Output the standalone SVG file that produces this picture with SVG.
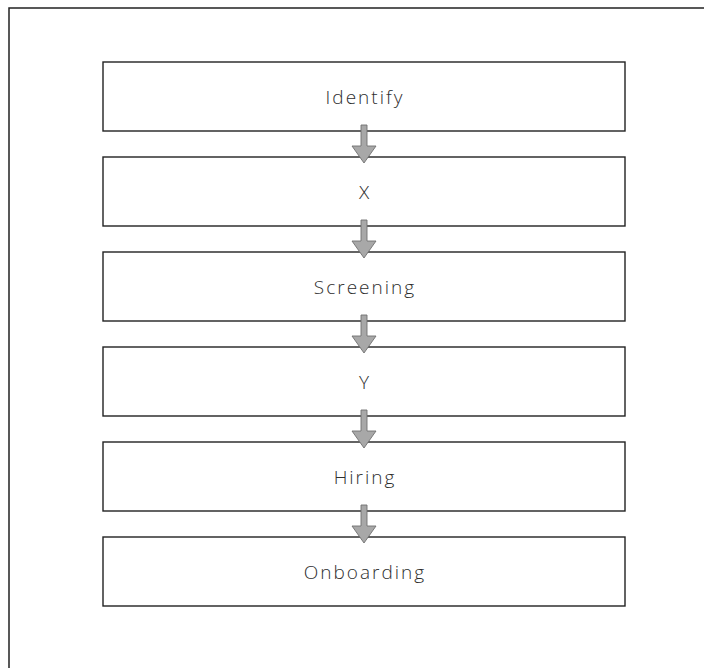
<svg xmlns="http://www.w3.org/2000/svg" width="704" height="668" viewBox="0 0 704 668">
<style>
.box{fill:#fff;stroke:#222;stroke-width:1.4}
.lbl{font-family:"Open Sans","Liberation Sans",sans-serif;font-size:19px;font-weight:300;fill:#2e2e2e;letter-spacing:2px;text-anchor:middle;dominant-baseline:central}
.arr{fill:#a8a8a8;stroke:#707070;stroke-width:0.9}
</style>
<rect width="704" height="668" fill="#fff"/>
<path d="M9,668 V8 H704" fill="none" stroke="#222" stroke-width="1.5"/>
<g id="n1"><rect class="box" x="103" y="62" width="522" height="69"/><text class="lbl" x="365" y="97">Identify</text></g>
<g id="n2"><rect class="box" x="103" y="157" width="522" height="69"/><text class="lbl" x="365" y="192">X</text></g>
<g id="n3"><rect class="box" x="103" y="252" width="522" height="69"/><text class="lbl" x="365" y="287">Screening</text></g>
<g id="n4"><rect class="box" x="103" y="347" width="522" height="69"/><text class="lbl" x="365" y="382">Y</text></g>
<g id="n5"><rect class="box" x="103" y="442" width="522" height="69"/><text class="lbl" x="365" y="477">Hiring</text></g>
<g id="n6"><rect class="box" x="103" y="537" width="522" height="69"/><text class="lbl" x="365" y="572">Onboarding</text></g>
<g id="connectors">
<path class="arr" d="M361,125 h6 v21 h9 l-12,17 l-12,-17 h9 z"/>
<path class="arr" d="M361,220 h6 v21 h9 l-12,17 l-12,-17 h9 z"/>
<path class="arr" d="M361,315 h6 v21 h9 l-12,17 l-12,-17 h9 z"/>
<path class="arr" d="M361,410 h6 v21 h9 l-12,17 l-12,-17 h9 z"/>
<path class="arr" d="M361,505 h6 v21 h9 l-12,17 l-12,-17 h9 z"/>
</g>
</svg>
